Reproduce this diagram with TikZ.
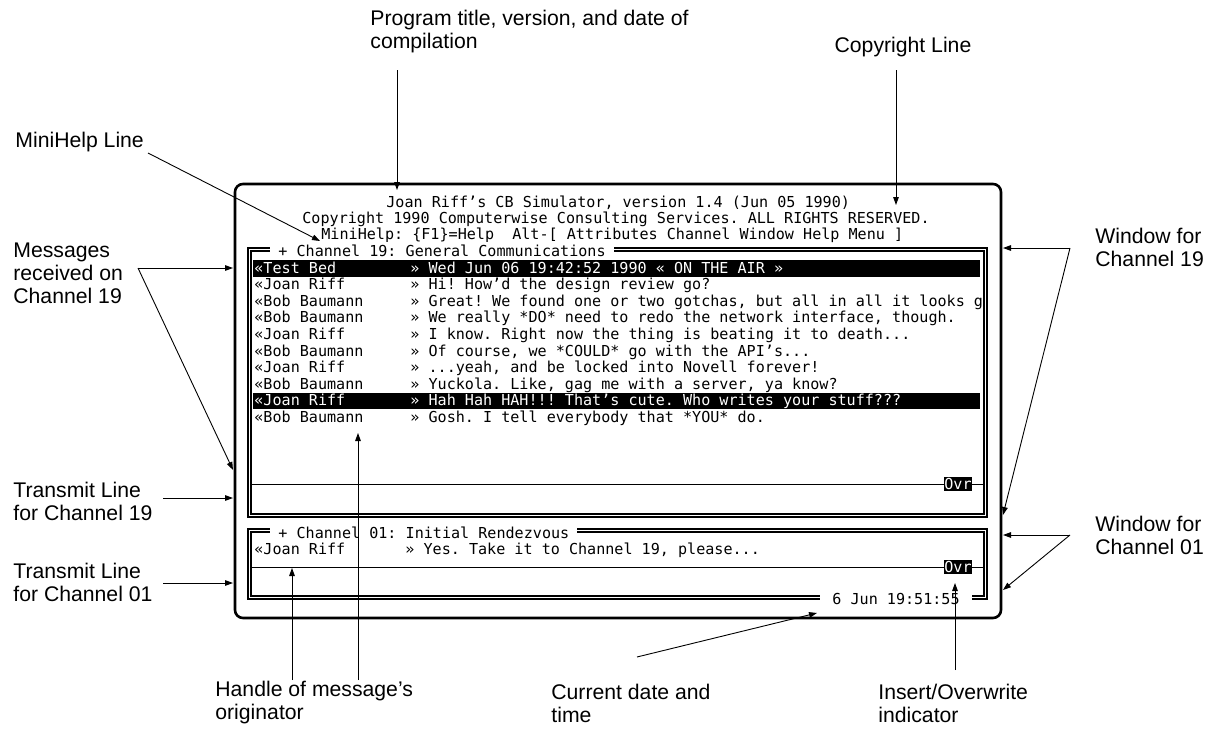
\documentclass[tikz,border=0pt]{standalone}
\usepackage{fontspec}
\setmainfont{Liberation Sans}
\setmonofont{DejaVu Sans Mono}
\usetikzlibrary{positioning,arrows.meta}

\begin{document}
\begin{tikzpicture}[x=0.5pt, y=-0.5pt,
    callout/.style={font=\fontsize{10.6}{11.5}\selectfont, align=left, anchor=west, inner sep=0pt},
    screen/.style={font=\fontsize{7.55}{8}\selectfont\ttfamily, anchor=base west, inner sep=0pt},
    wintitle/.style={screen, fill=white, inner xsep=4pt, inner ysep=1.5pt},
    ovrflag/.style={screen, anchor=center, fill=black, text=white, minimum width=14pt, minimum height=7pt},
    winframe/.style={line width=0.7pt, double, double distance=0.9pt},
    arrow/.style={-{Triangle[length=4pt, width=2.8pt]}, line width=0.45pt},
]
\useasboundingbox (0,0) rectangle (1207,750);

% Screen outline
\node (screen) [draw, line width=1.3pt, rounded corners=4pt, minimum width=383pt, minimum height=217pt, inner sep=0pt] at (618,401) {};

% Header lines
\node (title) [screen] at (386,207) {Joan Riff’s CB Simulator, version 1.4 (Jun 05 1990)};
\node (copyright) [screen] at (302,223) {Copyright 1990 Computerwise Consulting Services. ALL RIGHTS RESERVED.};
\node (minihelp) [screen] at (321,239) {MiniHelp: \{F1\}=Help\ \ Alt-[ Attributes Channel Window Help Menu ]};

% Channel 19 window
\draw[winframe] (249.5,249.5) rectangle (985.5,515.5);
\node (ch19) [wintitle] at (270,256.5) {+ Channel 19: General Communications};
\fill (253,260) rectangle (980,277);
\fill (253,392.5) rectangle (980,409);
\foreach \who/\what/\ink [count=\k from 0] in {
    {«Test Bed}/{» Wed Jun 06 19:42:52 1990 « ON THE AIR »}/white,
    {«Joan Riff}/{» Hi! How’d the design review go?}/black,
    {«Bob Baumann}/{» Great! We found one or two gotchas, but all in all it looks g}/black,
    {«Bob Baumann}/{» We really *DO* need to redo the network interface, though.}/black,
    {«Joan Riff}/{» I know. Right now the thing is beating it to death...}/black,
    {«Bob Baumann}/{» Of course, we *COULD* go with the API’s...}/black,
    {«Joan Riff}/{» ...yeah, and be locked into Novell forever!}/black,
    {«Bob Baumann}/{» Yuckola. Like, gag me with a server, ya know?}/black,
    {«Joan Riff}/{» Hah Hah HAH!!! That’s cute. Who writes your stuff???}/white,
    {«Bob Baumann}/{» Gosh. I tell everybody that *YOU* do.}/black}
{
    \pgfmathsetmacro\yy{273+16.6*\k}
    \node (who\k) [screen, text=\ink] at (254,\yy) {\who};
    \node (msg\k) [screen, text=\ink] at (410,\yy) {\what};
}
\node (ovr19) [ovrflag] at (958,484) {Ovr};
\coordinate (tx19a) at (251,484);
\coordinate (tx19b) at (984,484);
\draw[line width=0.5pt] (tx19a) -- (ovr19.west);
\draw[line width=0.5pt] (ovr19.east) -- (tx19b);

% Channel 01 window
\draw[winframe] (249.5,530.5) rectangle (985.5,597.5);
\node (ch01) [wintitle] at (270,538) {+ Channel 01: Initial Rendezvous};
\node (who01) [screen] at (254,554.5) {«Joan Riff};
\node (msg01) [screen] at (405,554.5) {» Yes. Take it to Channel 19, please...};
\node (ovr01) [ovrflag] at (958,567) {Ovr};
\coordinate (tx01a) at (251,567);
\coordinate (tx01b) at (984,567);
\draw[line width=0.5pt] (tx01a) -- (ovr01.west);
\draw[line width=0.5pt] (ovr01.east) -- (tx01b);
\node (clock) [screen, fill=white, inner xsep=6pt, inner ysep=1.5pt] at (820,604) {6 Jun 19:51:55};

% Labels
\node (lblTitle) [callout] at (370,32) {Program title, version, and date of\\compilation};
\node (lblCopy) [callout, anchor=center] at (903,47) {Copyright Line};
\node (lblMini) [callout] at (15,142) {MiniHelp Line};
\node (lblMsg) [callout] at (13,273) {Messages\\received on\\Channel 19};
\node (lblTx19) [callout] at (13,501) {Transmit Line\\for Channel 19};
\node (lblTx01) [callout] at (13,582.5) {Transmit Line\\for Channel 01};
\node (lblWin19) [callout] at (1095,247.5) {Window for\\Channel 19};
\node (lblWin01) [callout] at (1095,535) {Window for\\Channel 01};
\node (lblHandle) [callout] at (215,703) {Handle of message’s\\originator};
\node (lblDate) [callout] at (551,703) {Current date and\\time};
\node (lblIns) [callout] at (878,703) {Insert/Overwrite\\indicator};

% Arrow ends
\coordinate (titleFrom) at (397,70);
\coordinate (titleTo) at (397,190);
\coordinate (copyFrom) at (896,70);
\coordinate (copyTo) at (896,205);
\coordinate (miniFrom) at (148,153);
\coordinate (miniTo) at (320,241);
\coordinate (msgFrom) at (138,268);
\coordinate (msgTo1) at (233,268);
\coordinate (msgTo2) at (233,470);
\coordinate (tx19From) at (163,498);
\coordinate (tx19To) at (233,498);
\coordinate (tx01From) at (163,583);
\coordinate (tx01To) at (233,583);
\coordinate (win19From) at (1070,248);
\coordinate (win19To1) at (1003,248);
\coordinate (win19To2) at (1003,515);
\coordinate (win01From) at (1070,535);
\coordinate (win01To1) at (1003,535);
\coordinate (win01To2) at (1003,590);
\coordinate (handleFrom1) at (292,680);
\coordinate (handleTo1) at (292,568);
\coordinate (handleFrom2) at (358,680);
\coordinate (handleTo2) at (358,433);
\coordinate (dateFrom) at (637,657);
\coordinate (dateTo) at (817,613);
\coordinate (insFrom) at (955,670);
\coordinate (insTo) at (955,583);

% Arrows
\draw[arrow] (titleFrom) -- (titleTo);
\draw[arrow] (copyFrom) -- (copyTo);
\draw[arrow] (miniFrom) -- (miniTo);
\draw[arrow] (msgFrom) -- (msgTo1);
\draw[arrow] (msgFrom) -- (msgTo2);
\draw[arrow] (tx19From) -- (tx19To);
\draw[arrow] (tx01From) -- (tx01To);
\draw[arrow] (win19From) -- (win19To1);
\draw[arrow] (win19From) -- (win19To2);
\draw[arrow] (win01From) -- (win01To1);
\draw[arrow] (win01From) -- (win01To2);
\draw[arrow] (handleFrom1) -- (handleTo1);
\draw[arrow] (handleFrom2) -- (handleTo2);
\draw[arrow] (dateFrom) -- (dateTo);
\draw[arrow] (insFrom) -- (insTo);

\end{tikzpicture}
\end{document}
